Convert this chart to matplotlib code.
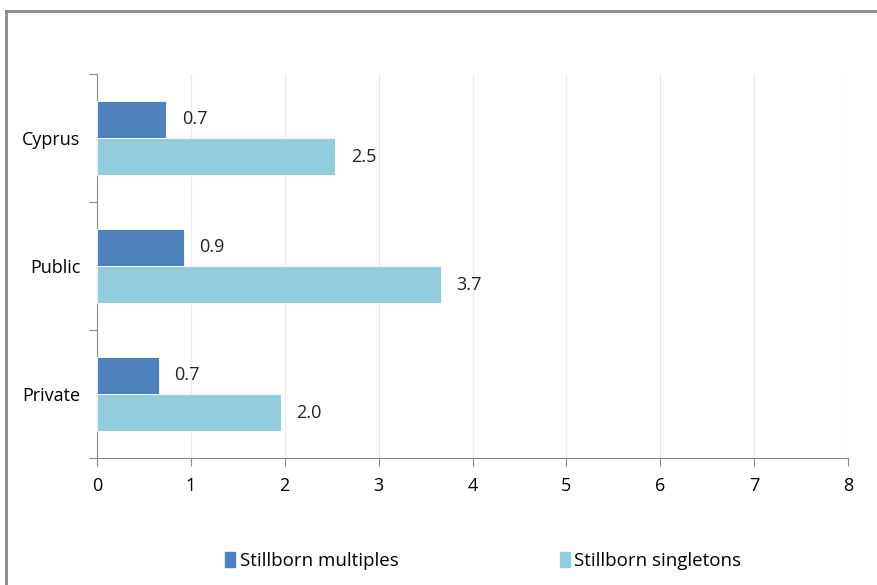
import matplotlib
matplotlib.use("Agg")
import matplotlib.pyplot as plt
from matplotlib.lines import Line2D
from matplotlib.patches import Patch

plt.rcParams['font.family'] = ['Open Sans', 'DejaVu Sans']

categories = ["Cyprus", "Public", "Private"]
multiples = [0.74, 0.93, 0.66]
singletons = [2.54, 3.66, 1.96]
series_names = ["Stillborn multiples", "Stillborn singletons"]
xticks = [0, 1, 2, 3, 4, 5, 6, 7, 8]

c_mult = "#4F81BD"
c_sing = "#93CDDD"
fs = 13

W, H = 877, 585
fig = plt.figure(figsize=(W / 100, H / 100), dpi=100)
ax = fig.add_axes([97 / W, 1 - 458 / H, (848 - 97) / W, (458 - 74) / H])

n = len(categories)
centers = [n - 1 - i + 0.5 for i in range(n)]  # Cyprus on top
bh = 0.29
ym = [c + bh / 2 for c in centers]
ys = [c - bh / 2 for c in centers]
ax.barh(ym, multiples, height=bh, color=c_mult, edgecolor="white", linewidth=0.6, zorder=3)
ax.barh(ys, singletons, height=bh, color=c_sing, edgecolor="white", linewidth=0.6, zorder=3)

for y, v in zip(ym, multiples):
    ax.annotate(f"{v:.1f}", (v, y), xytext=(11, 0), textcoords="offset points",
                ha="left", va="center", fontsize=fs, color="#222222")
for y, v in zip(ys, singletons):
    ax.annotate(f"{v:.1f}", (v, y), xytext=(11, 0), textcoords="offset points",
                ha="left", va="center", fontsize=fs, color="#222222")

ax.set_xlim(0, 8)
ax.set_ylim(0, n)
ax.set_xticks(xticks)
ax.set_xticklabels([str(t) for t in xticks], fontsize=fs)
ax.set_yticks([0, 1, 2, 3])
ax.set_yticklabels([])
ax.set_yticks(centers, minor=True)
ax.set_yticklabels(categories, minor=True, fontsize=fs)
ax.tick_params(axis="y", which="minor", length=0, pad=12)
ax.tick_params(axis="y", which="major", length=6, color="#888888", direction="out")
ax.tick_params(axis="x", length=6, color="#888888", direction="out", pad=8)
ax.grid(axis="x", color="#EBEBEB", linewidth=1, zorder=0)
for s in ["top", "right"]:
    ax.spines[s].set_visible(False)
for s in ["left", "bottom"]:
    ax.spines[s].set_color("#888888")

handles = [Patch(color=c_mult), Patch(color=c_sing)]
fig.legend(handles, series_names, loc="center", bbox_to_anchor=(483 / W, 1 - 561 / H),
           ncol=2, frameon=False, fontsize=13.5, handlelength=0.55, handleheight=0.8,
           handletextpad=0.25, columnspacing=8.6)

# outer border (top and left visible)
fig.add_artist(Line2D([6 / W, 1.0], [1 - 11 / H, 1 - 11 / H], color="#888888", linewidth=2,
                      transform=fig.transFigure))
fig.add_artist(Line2D([6 / W, 6 / W], [0, 1 - 11 / H], color="#888888", linewidth=2,
                      transform=fig.transFigure))

fig.savefig("out.png", dpi=100)
